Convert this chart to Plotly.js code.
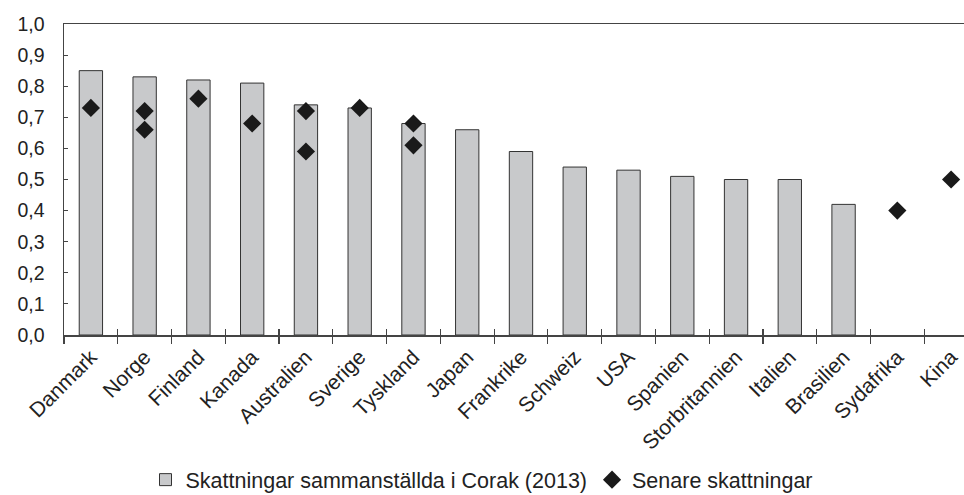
<!DOCTYPE html>
<html>
<head>
<meta charset="utf-8">
<script src="https://cdn.plot.ly/plotly-3.0.1.min.js"></script>
<style>
  html, body { margin: 0; padding: 0; background: #fff; }
  #chart { width: 964px; height: 495px; }
</style>
</head>
<body>
<div id="chart"></div>
<script>
// Intergenerational elasticity per country: Corak (2013) compilation
// as bars, later estimates as diamonds.

const countries = ['Danmark', 'Norge', 'Finland', 'Kanada', 'Australien',
                   'Sverige', 'Tyskland', 'Japan', 'Frankrike', 'Schweiz',
                   'USA', 'Spanien', 'Storbritannien', 'Italien', 'Brasilien',
                   'Sydafrika', 'Kina'];

const corakValues = [0.85, 0.83, 0.82, 0.81, 0.74, 0.73, 0.68, 0.66, 0.59,
                     0.54, 0.53, 0.51, 0.50, 0.50, 0.42, null, null];

// later estimates, some countries have two
const laterCountries = ['Danmark', 'Norge', 'Norge', 'Finland', 'Kanada',
                        'Australien', 'Australien', 'Sverige', 'Tyskland',
                        'Tyskland', 'Sydafrika', 'Kina'];
const laterValues = [0.73, 0.72, 0.66, 0.76, 0.68, 0.72, 0.59, 0.73, 0.68,
                     0.61, 0.40, 0.50];

const yTicks = [0, 0.1, 0.2, 0.3, 0.4, 0.5, 0.6, 0.7, 0.8, 0.9, 1.0];

const boundaries = [];
for (let i = 0; i <= countries.length; i++) { boundaries.push(i - 0.5); }

const font = 'Liberation Sans, Arial, sans-serif';
const axisColor = '#444';

const data = [
    {type: 'bar', x: countries, y: corakValues,
     name: 'Skattningar sammanställda i Corak (2013)',
     marker: {color: '#c8c9cb', line: {color: '#333', width: 1}},
     hoverinfo: 'x+y'},
    {type: 'scatter', mode: 'markers', x: laterCountries, y: laterValues,
     name: 'Senare skattningar',
     marker: {symbol: 'diamond', color: '#1a1a1a', size: 14}},
    // empty trace so the overlay axis carrying the inner ticks exists
    {type: 'scatter', x: [], y: [], xaxis: 'x2', showlegend: false,
     hoverinfo: 'skip'}
];

// visible part of the category axis ends before the last slot closes
const xRange = [-0.5, 16.24];

const layout = {
    width: 964, height: 495,
    margin: {l: 64, r: 0, t: 24, b: 160},
    paper_bgcolor: '#fff', plot_bgcolor: '#fff',
    separators: ',.',
    font: {family: font, size: 20, color: '#222'},
    bargap: 0.566,
    showlegend: true,
    // legend placed in container coords so it does not shrink the plot
    legend: {orientation: 'h', x: 0.5, xanchor: 'center', xref: 'container',
             y: 0.031, yanchor: 'middle', yref: 'container',
             font: {family: font, size: 21.5, color: '#222'},
             itemwidth: 30, tracegroupgap: 0},
    xaxis: {type: 'category', categoryorder: 'array', categoryarray: countries,
            range: xRange, tickangle: -45,
            tickson: 'boundaries', ticks: 'outside', ticklen: 7,
            tickcolor: axisColor, tickwidth: 1.2,
            showline: true, linecolor: axisColor, linewidth: 1.5,
            mirror: true, showgrid: false, zeroline: false,
            tickfont: {family: font, size: 21, color: '#222'}},
    xaxis2: {overlaying: 'x', anchor: 'y', range: xRange,
             tickmode: 'array', tickvals: boundaries,
             ticks: 'inside', ticklen: 6, tickcolor: axisColor, tickwidth: 1.2,
             showticklabels: false, showline: false, showgrid: false,
             zeroline: false},
    yaxis: {range: [0, 1.0], tickmode: 'array', tickvals: yTicks,
            tickformat: '.1f', ticks: 'inside', ticklen: 4,
            ticklabelstandoff: 14,
            tickcolor: axisColor, showline: true, linecolor: axisColor,
            linewidth: 1.5, showgrid: false, zeroline: false,
            tickfont: {family: font, size: 19.5, color: '#222'}}
};

Plotly.newPlot(document.querySelector('#chart'), data, layout,
               {displayModeBar: false, staticPlot: true});
</script>
</body>
</html>
